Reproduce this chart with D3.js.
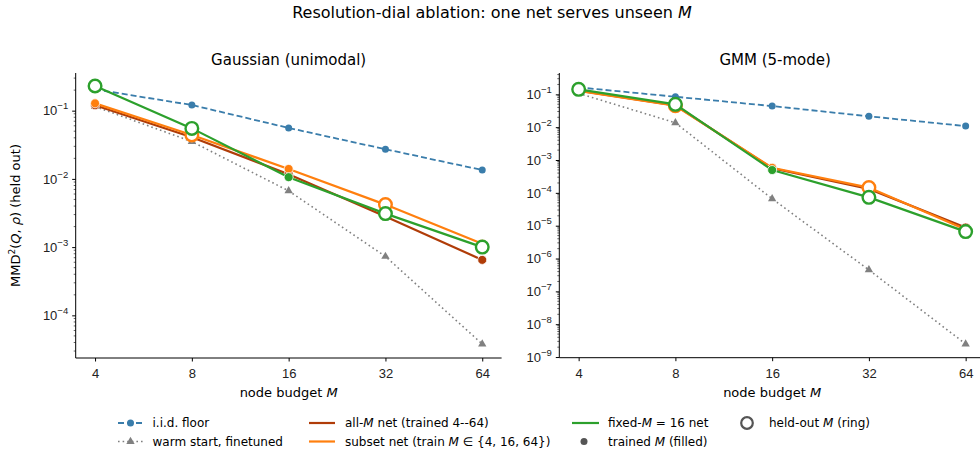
<!DOCTYPE html>
<html>
<head>
<meta charset="utf-8">
<script src="https://cdn.jsdelivr.net/npm/d3@7"></script>
<style>
  body { margin: 0; background: #fff; }
  svg { font-family: "DejaVu Sans", sans-serif; }
  .tick text { fill: #222; }
</style>
</head>
<body>
<div id="chart"></div>
<script>
// Data
const budgets = [4, 8, 16, 32, 64];

// Gaussian (unimodal)
const gaussIid = [0.205, 0.121, 0.0558, 0.0272, 0.0135];
const gaussWarm = [0.115, 0.0352, 0.00667, 0.00073, 0.000038];
const gaussAllM = [0.12, 0.0407, 0.0117, 0.00282, 0.00065];
const gaussSubset = [0.128, 0.044, 0.014, 0.0042, 0.00112];
const gaussFixed = [0.23, 0.055, 0.0106, 0.0031, 0.001];

// GMM (5-mode)
const gmmIid = [0.163, 0.0845, 0.044, 0.0214, 0.0108];
const gmmWarm = [0.107, 0.0136, 0.000066, 0.00000045, 0.0000000025];
const gmmAllM = [0.13, 0.046, 0.00056, 0.000132, 0.0000088];
const gmmSubset = [0.127, 0.045, 0.00058, 0.000145, 0.0000077];
const gmmFixed = [0.142, 0.0496, 0.000495, 0.000073, 0.0000066];

// which budgets each net was trained on
const trainedAllM = [4, 8, 16, 32, 64];
const trainedSubset = [4, 16, 64];
const trainedFixed = [16];

const panelTitles = ['Gaussian (unimodal)', 'GMM (5-mode)'];

// Constants
const WIDTH = 980;
const HEIGHT = 452;
const TOP = 73;
const COLORS = {
    iid: '#3a7dab',
    warm: '#808080',
    allM: '#b03c08',
    subset: '#ff7f0e',
    fixed: '#2ca02c'
};

const svg = d3.select('#chart')
    .append('svg').attr('width', WIDTH).attr('height', HEIGHT);

// title
svg.append('text')
    .attr('x', 492).attr('y', 18)
    .attr('text-anchor', 'middle')
    .attr('font-size', 16)
    .html('Resolution-dial ablation: one net serves unseen <tspan font-style="italic">M</tspan>');

const panels = [
    {
        title: panelTitles[0], left: 75.7, right: 501.6, bottom: 358,
        yDomain: [Math.pow(10, -4.625), Math.pow(10, -0.448)],
        series: { iid: gaussIid, warm: gaussWarm, allM: gaussAllM, subset: gaussSubset, fixed: gaussFixed }
    },
    {
        title: panelTitles[1], left: 559.3, right: 985, bottom: 357.7,
        yDomain: [Math.pow(10, -9.02), Math.pow(10, -0.35)],
        series: { iid: gmmIid, warm: gmmWarm, allM: gmmAllM, subset: gmmSubset, fixed: gmmFixed }
    }
];

function supLabel(sel, exp) {
    sel.text('');
    sel.append('tspan').text('10');
    sel.append('tspan').attr('dy', -6).attr('font-size', 9.5).text('\u2212' + Math.abs(exp));
}

panels.forEach((p, i) => {
    const x = d3.scaleLog().base(2)
        .domain([Math.pow(2, 1.8), Math.pow(2, 6.2)])
        .range([p.left, p.right]);
    const y = d3.scaleLog()
        .domain(p.yDomain)
        .range([p.bottom, TOP]);

    const g = svg.append('g').attr('class', 'panel-' + i);

    // subplot title
    g.append('text')
        .attr('x', (p.left + p.right) / 2 + (i ? 3 : 0)).attr('y', 65)
        .attr('text-anchor', 'middle')
        .attr('font-size', 15)
        .text(p.title);

    // x axis
    const xAxis = d3.axisBottom(x)
        .tickValues(budgets)
        .tickFormat(d3.format('d'))
        .tickSize(3.5).tickPadding(4);
    const gx = g.append('g')
        .attr('transform', `translate(0,${p.bottom})`)
        .call(xAxis);
    gx.select('.domain').attr('d', `M${p.left},0H${p.right}`).attr('stroke', '#000').attr('stroke-width', 1);
    gx.selectAll('.tick text').attr('font-size', 13).attr('dy', '0.95em');

    // y axis: majors at each decade plus minor ticks
    const lo = Math.ceil(Math.log10(p.yDomain[0]));
    const hi = Math.floor(Math.log10(p.yDomain[1]));
    const majors = d3.range(lo, hi + 1);
    const minors = [];
    for (let e = lo - 1; e <= hi; e++) {
        for (let k = 2; k <= 9; k++) {
            const v = k * Math.pow(10, e);
            if (v >= p.yDomain[0] && v <= p.yDomain[1]) minors.push(v);
        }
    }
    const yAxis = d3.axisLeft(y)
        .tickValues(majors.map(e => Math.pow(10, e)))
        .tickSize(3.5).tickPadding(4)
        .tickFormat('');
    const gy = g.append('g')
        .attr('transform', `translate(${p.left},0)`)
        .call(yAxis);
    gy.select('.domain').attr('d', `M0,${p.bottom}V${TOP}`).attr('stroke', '#000');
    gy.selectAll('.tick text')
        .attr('font-size', 13)
        .each(function (d) { supLabel(d3.select(this), Math.round(Math.log10(d))); });
    g.append('g')
        .selectAll('line')
        .data(minors)
        .join('line')
        .attr('x1', p.left - 2).attr('x2', p.left)
        .attr('y1', d => y(d)).attr('y2', d => y(d))
        .attr('stroke', '#000').attr('stroke-width', 0.6);

    // x label
    g.append('text')
        .attr('x', (p.left + p.right) / 2).attr('y', 397)
        .attr('text-anchor', 'middle')
        .attr('font-size', 13)
        .html('node budget <tspan font-style="italic">M</tspan>');

    const line = d3.line()
        .x((d, j) => x(budgets[j]))
        .y(d => y(d));

    const s = p.series;

    // i.i.d. floor
    g.append('path').attr('d', line(s.iid))
        .attr('fill', 'none').attr('stroke', COLORS.iid)
        .attr('stroke-width', 1.8).attr('stroke-dasharray', '6,3');
    g.append('g').selectAll('circle').data(s.iid).join('circle')
        .attr('cx', (d, j) => x(budgets[j])).attr('cy', d => y(d))
        .attr('r', 3.5).attr('fill', COLORS.iid);

    // warm start
    g.append('path').attr('d', line(s.warm))
        .attr('fill', 'none').attr('stroke', COLORS.warm)
        .attr('stroke-width', 1.6).attr('stroke-dasharray', '1.6,3');
    g.append('g').selectAll('path').data(s.warm).join('path')
        .attr('d', d3.symbol().type(d3.symbolTriangle).size(30))
        .attr('transform', (d, j) => `translate(${x(budgets[j])},${y(d)})`)
        .attr('fill', COLORS.warm);

    // nets: filled for trained M, ring for held out M
    const nets = [
        { key: 'allM', values: s.allM, trained: trainedAllM },
        { key: 'subset', values: s.subset, trained: trainedSubset },
        { key: 'fixed', values: s.fixed, trained: trainedFixed }
    ];
    nets.forEach(n => {
        g.append('path').attr('d', line(n.values))
            .attr('fill', 'none').attr('stroke', COLORS[n.key])
            .attr('stroke-width', 2.2);
        g.append('g').selectAll('circle').data(n.values).join('circle')
            .attr('cx', (d, j) => x(budgets[j])).attr('cy', d => y(d))
            .attr('r', (d, j) => n.trained.includes(budgets[j]) ? 4.5 : 6.3)
            .attr('fill', (d, j) => n.trained.includes(budgets[j]) ? COLORS[n.key] : '#fff')
            .attr('stroke', (d, j) => n.trained.includes(budgets[j]) ? '#fff' : COLORS[n.key])
            .attr('stroke-width', (d, j) => n.trained.includes(budgets[j]) ? 0.8 : 2.4);
    });
});

// y label (left panel only)
svg.append('text')
    .attr('transform', 'translate(20,215.5) rotate(-90)')
    .attr('text-anchor', 'middle')
    .attr('font-size', 13)
    .html('MMD<tspan dy="-5" font-size="9">2</tspan><tspan dy="5">(</tspan><tspan font-style="italic">Q</tspan>, <tspan font-style="italic">\u03c1</tspan>) (held out)');

// Legend
const legend = svg.append('g').attr('font-size', 12);
const row1 = 423, row2 = 441.5;

function legendText(xp, yp, html) {
    legend.append('text').attr('x', xp).attr('y', yp).attr('dy', '0.35em').html(html);
}

// i.i.d. floor
legend.append('line').attr('x1', 118).attr('x2', 143).attr('y1', row1).attr('y2', row1)
    .attr('stroke', COLORS.iid).attr('stroke-width', 1.8).attr('stroke-dasharray', '6,3');
legend.append('circle').attr('cx', 130.5).attr('cy', row1).attr('r', 3.5).attr('fill', COLORS.iid);
legendText(152.5, row1, 'i.i.d. floor');

// warm start
legend.append('line').attr('x1', 118).attr('x2', 143).attr('y1', row2).attr('y2', row2)
    .attr('stroke', COLORS.warm).attr('stroke-width', 1.6).attr('stroke-dasharray', '1.6,3');
legend.append('path').attr('d', d3.symbol().type(d3.symbolTriangle).size(30))
    .attr('transform', `translate(130.5,${row2})`).attr('fill', COLORS.warm);
legendText(152.5, row2, 'warm start, finetuned');

// all-M and subset
legend.append('line').attr('x1', 309).attr('x2', 335).attr('y1', row1).attr('y2', row1)
    .attr('stroke', COLORS.allM).attr('stroke-width', 2.2);
legendText(345, row1, 'all-<tspan font-style="italic">M</tspan> net (trained 4--64)');
legend.append('line').attr('x1', 309).attr('x2', 335).attr('y1', row2).attr('y2', row2)
    .attr('stroke', COLORS.subset).attr('stroke-width', 2.2);
legendText(345, row2, 'subset net (train <tspan font-style="italic">M</tspan> \u2208 {4, 16, 64})');

// fixed and trained marker
legend.append('line').attr('x1', 572).attr('x2', 599).attr('y1', row1).attr('y2', row1)
    .attr('stroke', COLORS.fixed).attr('stroke-width', 2.2);
legendText(608, row1, 'fixed-<tspan font-style="italic">M</tspan> = 16 net');
legend.append('circle').attr('cx', 584).attr('cy', row2).attr('r', 3.5).attr('fill', '#555');
legendText(608, row2, 'trained <tspan font-style="italic">M</tspan> (filled)');

// held out ring
legend.append('circle').attr('cx', 747).attr('cy', row1).attr('r', 5.8)
    .attr('fill', '#fff').attr('stroke', '#555').attr('stroke-width', 2.2);
legendText(769, row1, 'held-out <tspan font-style="italic">M</tspan> (ring)');
</script>
</body>
</html>
